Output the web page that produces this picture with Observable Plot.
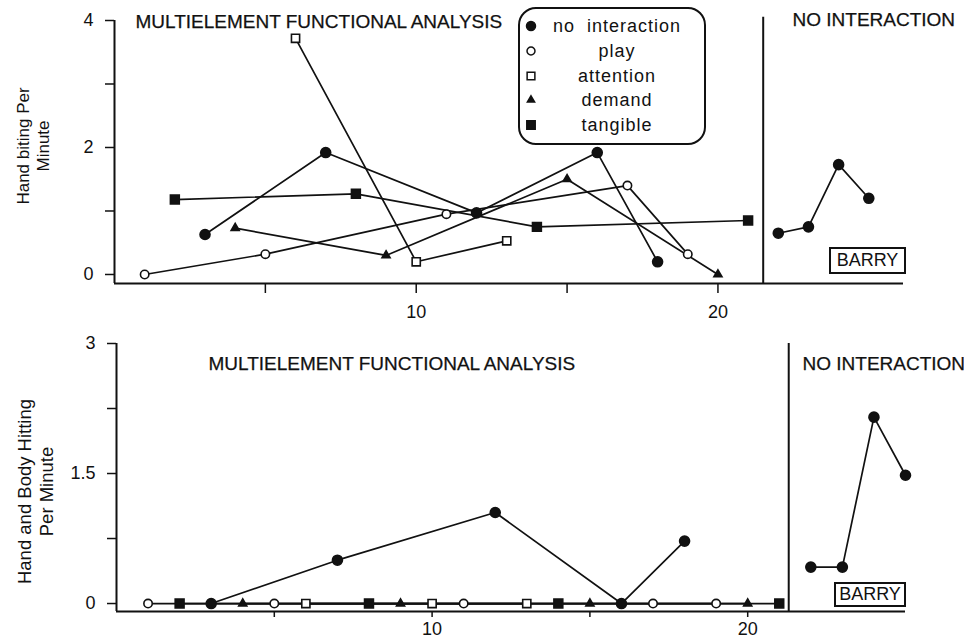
<!DOCTYPE html>
<html>
<head>
<meta charset="utf-8">
<script src="https://cdn.jsdelivr.net/npm/d3@7"></script>
<script src="https://cdn.jsdelivr.net/npm/@observablehq/plot@0.6"></script>
<style>
  body { margin: 0; background: #fff; font-family: "Liberation Sans", Arial, sans-serif; color: #111; }
  #wrap { position: relative; width: 964px; height: 640px; overflow: hidden; background: #fff; }
  #top, #bottom { position: absolute; left: 0; }
  #top { top: 0; }
  #bottom { top: 320px; }
  .legend { position: absolute; left: 518px; top: 7px; width: 188px; height: 138px; box-sizing: border-box;
            border: 2px solid #111; border-radius: 18px; background: #fff; }
  .legend .row { position: absolute; left: 0; width: 184px; height: 25px; }
  .legend svg { position: absolute; left: 4px; top: 5px; }
  .legend .lab { position: absolute; left: 0; width: 194px; text-align: center; line-height: 25px;
                 font-size: 18px; letter-spacing: 1px; white-space: pre; }
  .subject { position: absolute; box-sizing: border-box; border: 2px solid #111; background: #fff;
             font-size: 18px; text-align: center; }
</style>
</head>
<body>
<div id="wrap">
  <div id="top"></div>
  <div id="bottom"></div>
</div>
<script>
// ---------- data ----------
const conditions = ["no interaction", "play", "attention", "demand", "tangible"];

// Top panel: hand biting per minute (multielement sessions)
const bitingNoInteractionSessions = [3, 7, 12, 16, 18];
const bitingNoInteractionRates    = [0.63, 1.92, 0.97, 1.92, 0.20];
const bitingPlaySessions          = [1, 5, 11, 17, 19];
const bitingPlayRates             = [0, 0.32, 0.95, 1.40, 0.32];
const bitingAttentionSessions     = [6, 10, 13];
const bitingAttentionRates        = [3.72, 0.20, 0.53];
const bitingDemandSessions        = [4, 9, 15, 20];
const bitingDemandRates           = [0.73, 0.30, 1.50, 0];
const bitingTangibleSessions      = [2, 8, 14, 21];
const bitingTangibleRates         = [1.18, 1.27, 0.75, 0.85];
// Top panel: no-interaction phase
const bitingPhaseSessions         = [22, 23, 24, 25];
const bitingPhaseRates            = [0.65, 0.75, 1.73, 1.20];

// Bottom panel: hand and body hitting per minute
const hittingNoInteractionSessions = [3, 7, 12, 16, 18];
const hittingNoInteractionRates    = [0, 0.50, 1.05, 0, 0.72];
const hittingPlaySessions          = [1, 5, 11, 17, 19];
const hittingPlayRates             = [0, 0, 0, 0, 0];
const hittingAttentionSessions     = [6, 10, 13];
const hittingAttentionRates        = [0, 0, 0];
const hittingDemandSessions        = [4, 9, 15, 20];
const hittingDemandRates           = [0, 0, 0, 0];
const hittingTangibleSessions      = [2, 8, 14, 21];
const hittingTangibleRates         = [0, 0, 0, 0];
const hittingPhaseSessions         = [22, 23, 24, 25];
const hittingPhaseRates            = [0.42, 0.42, 2.15, 1.48];

// phase-change line (between sessions 21 and 22)
const topPhaseChange = 21.5;
const bottomPhaseChange = 21.3;

// tick values and labels
const xTicks = [5, 10, 15, 20];
const xTickLabels = [10, 20];
const topYTicks = [0, 1, 2, 3, 4];
const topYTickLabels = [0, 2, 4];
const bottomYTicks = [0, 0.75, 1.5, 2.25, 3];
const bottomYTickLabels = [0, 1.5, 3];

const phaseTitles = ["MULTIELEMENT FUNCTIONAL ANALYSIS", "NO INTERACTION"];
const topYTitle = "Hand biting Per\nMinute";
const bottomYTitle = "Hand and Body Hitting\nPer Minute";
const subjectName = "BARRY";

// ---------- styles ----------
const markerStyle = {
  "no interaction": {symbol: "circle",   fill: "#111", r: 5},
  "play":           {symbol: "circle",   fill: "#fff", r: 4.2},
  "attention":      {symbol: "square",   fill: "#fff", r: 4.6},
  "demand":         {symbol: "triangle", fill: "#111", r: 3},
  "tangible":       {symbol: "square",   fill: "#111", r: 5}
};

function rows(condition, phase, sessions, rates) {
  return sessions.map((s, i) => ({condition, phase, session: s, rate: rates[i]}));
}

const bitingData = [
  ...rows("no interaction", "fa", bitingNoInteractionSessions, bitingNoInteractionRates),
  ...rows("play", "fa", bitingPlaySessions, bitingPlayRates),
  ...rows("attention", "fa", bitingAttentionSessions, bitingAttentionRates),
  ...rows("demand", "fa", bitingDemandSessions, bitingDemandRates),
  ...rows("tangible", "fa", bitingTangibleSessions, bitingTangibleRates),
  ...rows("no interaction", "ni", bitingPhaseSessions, bitingPhaseRates)
];
const hittingData = [
  ...rows("no interaction", "fa", hittingNoInteractionSessions, hittingNoInteractionRates),
  ...rows("play", "fa", hittingPlaySessions, hittingPlayRates),
  ...rows("attention", "fa", hittingAttentionSessions, hittingAttentionRates),
  ...rows("demand", "fa", hittingDemandSessions, hittingDemandRates),
  ...rows("tangible", "fa", hittingTangibleSessions, hittingTangibleRates),
  ...rows("no interaction", "ni", hittingPhaseSessions, hittingPhaseRates)
];

const FONT = "'Liberation Sans', Arial, Helvetica, sans-serif";

function panel(cfg) {
  const {data, xDomain, yDomain, yTicks, yLabels, phaseChange, yTitle, m, yTick, xTick, titles, yTitleOpt} = cfg;
  const marks = [];
  // axis lines
  marks.push(Plot.ruleX([xDomain[0]], {y1: yDomain[0], y2: yDomain[1], stroke: "#111", strokeWidth: 2}));
  marks.push(Plot.ruleY([yDomain[0]], {x1: xDomain[0], x2: xDomain[1], stroke: "#111", strokeWidth: 2}));
  // phase change line
  marks.push(Plot.ruleX([phaseChange], {y1: yDomain[0], y2: yDomain[1] + cfg.phaseTopExtra, stroke: "#111", strokeWidth: 2}));
  // axes: ticks
  marks.push(Plot.axisY({ticks: yTicks, tickSize: yTick.size, label: null,
    tickFormat: () => "", strokeWidth: 1.5}));
  // y tick labels through the y scale
  marks.push(Plot.text(yLabels, {y: d => d, text: d => String(d), frameAnchor: "left", textAnchor: "end",
    dx: -yTick.labelOffset, fontSize: 18, fill: "#111"}));
  marks.push(Plot.axisX({ticks: xTicks, tickSize: xTick.size, tickPadding: xTick.pad, label: null,
    tickFormat: d => xTickLabels.includes(d) ? String(d) : "", fontSize: 18, strokeWidth: 1.5,
    letterSpacing: "2px"}));
  // series lines
  for (const c of conditions) {
    for (const ph of ["fa", "ni"]) {
      const sub = data.filter(d => d.condition === c && d.phase === ph);
      if (sub.length) marks.push(Plot.line(sub, {x: "session", y: "rate", stroke: "#111", strokeWidth: 1.7}));
    }
  }
  // markers
  for (const c of conditions) {
    const sub = data.filter(d => d.condition === c);
    const st = markerStyle[c];
    marks.push(Plot.dot(sub, {x: "session", y: "rate", symbol: st.symbol, fill: st.fill, r: st.r,
      stroke: "#111", strokeWidth: 1.6}));
  }
  // phase titles
  marks.push(Plot.text([titles[0]], {frameAnchor: "top-left", textAnchor: "start", lineAnchor: "middle",
    dx: cfg.t1.dx, dy: cfg.t1.dy, fontSize: 19, fill: "#111", stroke: "#111", strokeWidth: 0.25}));
  marks.push(Plot.text([titles[1]], {frameAnchor: "top-left", textAnchor: "start", lineAnchor: "middle",
    dx: cfg.t2.dx, dy: cfg.t2.dy, fontSize: 19, fill: "#111", stroke: "#111", strokeWidth: 0.25}));
  // y title
  marks.push(Plot.text([yTitle], {frameAnchor: "left", rotate: -90, textAnchor: "middle", lineAnchor: "middle",
    dx: yTitleOpt.dx, dy: yTitleOpt.dy, fontSize: yTitleOpt.size, lineHeight: yTitleOpt.lh, fill: "#111"}));

  return Plot.plot({
    width: 964, height: 320,
    marginLeft: m.left, marginRight: m.right, marginTop: m.top, marginBottom: m.bottom,
    x: {domain: xDomain},
    y: {domain: yDomain},
    style: {fontFamily: FONT, fontSize: "18px", color: "#111", background: "#fff", overflow: "visible"},
    marks
  });
}

const topPlot = panel({
  data: bitingData, xDomain: [0, 26.15], yDomain: [-0.142, 4],
  yTicks: topYTicks, yLabels: topYTickLabels, phaseChange: topPhaseChange, phaseTopExtra: 0.05,
  yTitle: topYTitle, titles: phaseTitles,
  m: {left: 114, right: 61, top: 20, bottom: 37},
  yTick: {size: 9, labelOffset: 21}, xTick: {size: 10, pad: 12},
  t1: {dx: 21, dy: 1}, t2: {dx: 678, dy: -1},
  yTitleOpt: {dx: -82, dy: -6, size: 17, lh: 1.2}
});
document.getElementById("top").appendChild(topPlot);

const bottomPlot = panel({
  data: hittingData, xDomain: [0, 25.0], yDomain: [-0.092, 3],
  yTicks: bottomYTicks, yLabels: bottomYTickLabels, phaseChange: bottomPhaseChange, phaseTopExtra: 0,
  yTitle: bottomYTitle, titles: phaseTitles,
  m: {left: 116, right: 59, top: 23, bottom: 29},
  yTick: {size: 9, labelOffset: 21}, xTick: {size: 6, pad: 5},
  t1: {dx: 92, dy: 20}, t2: {dx: 686, dy: 20},
  yTitleOpt: {dx: -82, dy: 14, size: 18.5, lh: 1.2}
});
document.getElementById("bottom").appendChild(bottomPlot);

// ---------- legend (inside top panel) ----------
const wrap = document.getElementById("wrap");
const legend = document.createElement("div");
legend.className = "legend";
const legendLabels = {"no interaction": "no  interaction", "play": "play", "attention": "attention", "demand": "demand", "tangible": "tangible"};
const legendScale = {"no interaction": 0.9, "play": 0.95, "attention": 0.95, "demand": 0.9, "tangible": 0.95};
const symbolMap = {circle: d3.symbolCircle, square: d3.symbolSquare, triangle: d3.symbolTriangle};
conditions.forEach((c, i) => {
  const row = document.createElement("div");
  row.className = "row";
  row.style.top = (5 + i * 24.8) + "px";
  const st = markerStyle[c];
  const r = st.r * legendScale[c];
  const path = d3.symbol(symbolMap[st.symbol], Math.PI * r * r)();
  row.innerHTML = `<svg width="14" height="14" viewBox="-7 -7 14 14"><path d="${path}" fill="${st.fill}" stroke="#111" stroke-width="1.5"/></svg>` +
    `<div class="lab">${legendLabels[c]}</div>`;
  legend.appendChild(row);
});
wrap.appendChild(legend);

// ---------- subject labels ----------
function subjectBox(left, top, w, h) {
  const b = document.createElement("div");
  b.className = "subject";
  b.style.left = left + "px"; b.style.top = top + "px";
  b.style.width = w + "px"; b.style.height = h + "px";
  b.style.lineHeight = (h - 4) + "px";
  b.textContent = subjectName;
  wrap.appendChild(b);
}
subjectBox(829, 247, 77, 27);
subjectBox(834, 582, 72, 25);
</script>
</body>
</html>
